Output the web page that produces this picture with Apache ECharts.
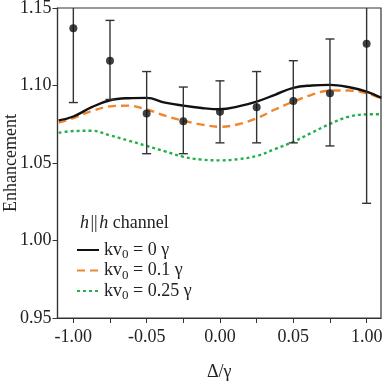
<!DOCTYPE html>
<html><head><meta charset="utf-8">
<script src="https://cdn.jsdelivr.net/npm/echarts@6/dist/echarts.min.js"></script>
<style>html,body{margin:0;padding:0;background:#fff}#c{width:383px;height:383px}</style>
</head><body><div id="c"></div>
<script>
// Experimental points
const pointX   = [-0.1, -0.075, -0.05, -0.025, 0, 0.025, 0.05, 0.075, 0.1];
const pointY   = [1.137, 1.116, 1.082, 1.077, 1.083, 1.086, 1.090, 1.095, 1.127];
const errLow   = [1.089, 1.091, 1.056, 1.056, 1.063, 1.063, 1.063, 1.061, 1.024];
const errHigh  = [1.185, 1.142, 1.109, 1.099, 1.103, 1.109, 1.116, 1.130, 1.230];
// Theory curves
const curveX   = [-0.11, -0.1, -0.0875, -0.075, -0.0625, -0.05, -0.0375, -0.025, -0.0125, 0, 0.0125, 0.025, 0.0375, 0.05, 0.0625, 0.075, 0.0875, 0.1, 0.11];
const curve0   = [1.0775, 1.080, 1.086, 1.0905, 1.0918, 1.092, 1.089, 1.087, 1.0855, 1.0847, 1.0865, 1.0896, 1.094, 1.0985, 1.100, 1.1004, 1.099, 1.096, 1.092];
const curve01  = [1.076, 1.079, 1.0835, 1.0865, 1.087, 1.0845, 1.0805, 1.0773, 1.0748, 1.0734, 1.075, 1.0788, 1.0845, 1.0896, 1.094, 1.0967, 1.0968, 1.095, 1.0915];
const curve025 = [1.0695, 1.0706, 1.0708, 1.0678, 1.0645, 1.061, 1.0575, 1.054, 1.0522, 1.0517, 1.0525, 1.0545, 1.059, 1.0637, 1.0695, 1.0752, 1.0798, 1.0814, 1.0815];
const seriesKv = ['0', '0.1', '0.25'];
// Axis ticks
const xTickValues  = [-0.1, -0.075, -0.05, -0.025, 0, 0.025, 0.05, 0.075, 0.1];
const xLabelValues = [-0.1, -0.05, 0, 0.05, 0.1];
const xTickLabels  = ['-1.00', '-0.05', '0.00', '0.05', '1.00'];

const FONT = 'Liberation Serif';
const zip = (xs, ys) => xs.map((x, i) => [x, ys[i]]);
const chart = echarts.init(document.getElementById('c'));
const lineNames = seriesKv.map(k => 'kv0 = ' + k + ' γ');
const colors = ['#111111', '#f0862c', '#22b04a'];
const dashes = ['solid', [8, 5], [3, 3]];

const lineSeries = [curve0, curve01, curve025].map((c, i) => ({
  name: lineNames[i], type: 'line', data: zip(curveX, c), smooth: 0.4,
  symbol: 'none', showSymbol: false,
  lineStyle: { color: colors[i], width: 2.4, type: dashes[i] },
  itemStyle: { color: colors[i] }, z: 3 - i + 2
}));

chart.setOption({
  animation: false,
  grid: { left: 57.5, right: 2, top: 8, bottom: 65, containLabel: false, outerBoundsMode: 'none',
          show: true, borderColor: '#333', borderWidth: 1.2, backgroundColor: 'transparent' },
  title: {
    text: '{i|h}{t|\u200a||\u200a}{i|h}{t| channel}', left: 75, top: 209,
    textStyle: { fontFamily: FONT, fontSize: 18, color: '#222', fontWeight: 'normal',
      rich: { i: { fontFamily: FONT, fontStyle: 'italic', fontSize: 18, color: '#222' },
              t: { fontFamily: FONT, fontSize: 18, color: '#222' } } }
  },
  legend: {
    orient: 'vertical', left: 71, top: 236, itemWidth: 22, itemHeight: 12, itemGap: 0,
    data: lineNames,
    itemStyle: { opacity: 0 },
    formatter: name => { const k = seriesKv[lineNames.indexOf(name)]; return '{t|kv}{s|0}{t| = ' + k + ' γ}'; },
    textStyle: { fontFamily: FONT, color: '#222',
      rich: { t: { fontFamily: FONT, fontSize: 18, color: '#222', lineHeight: 16 },
              s: { fontFamily: FONT, fontSize: 13, color: '#222', padding: [10, 0, 0, 0] } } }
  },
  xAxis: {
    type: 'value', min: -0.1108, max: 0.1098,
    name: 'Δ/γ', nameLocation: 'middle', nameGap: 45, nameMoveOverlap: false,
    nameTextStyle: { fontFamily: FONT, fontSize: 18, color: '#222' },
    axisLine: { onZero: false, lineStyle: { color: '#333', width: 1.2 } },
    axisTick: { show: true, length: 5, customValues: xTickValues, lineStyle: { color: '#333' } },
    axisLabel: { customValues: xLabelValues, margin: 10, fontFamily: FONT, fontSize: 18, color: '#222',
      formatter: v => { const i = xLabelValues.findIndex(x => Math.abs(x - v) < 1e-9); return i >= 0 ? xTickLabels[i] : ''; } },
    splitLine: { show: false }
  },
  yAxis: {
    type: 'value', min: 0.95, max: 1.15, interval: 0.05,
    name: 'Enhancement', nameLocation: 'middle', nameGap: 37, nameMoveOverlap: false,
    nameTextStyle: { fontFamily: FONT, fontSize: 18, color: '#222' },
    axisLine: { show: true, onZero: false, lineStyle: { color: '#333', width: 1.2 } },
    axisTick: { show: true, length: 5, lineStyle: { color: '#333' } },
    axisLabel: { margin: 6, fontFamily: FONT, fontSize: 18, color: '#222', formatter: v => v.toFixed(2) },
    splitLine: { show: false }
  },
  series: [
    ...lineSeries,
    {
      type: 'custom', name: 'err', z: 6,
      data: pointX.map((x, i) => [x, errLow[i], errHigh[i]]),
      renderItem: (params, api) => {
        const x = api.value(0);
        const lo = api.coord([x, api.value(1)]);
        const hi = api.coord([x, api.value(2)]);
        const top = params.coordSys.y;
        const clipped = hi[1] < top;
        const yHi = clipped ? top : hi[1];
        const w = 4.5;
        const st = { stroke: '#333', lineWidth: 1.4 };
        const ch = [
          { type: 'line', shape: { x1: lo[0], y1: lo[1], x2: lo[0], y2: yHi }, style: st },
          { type: 'line', shape: { x1: lo[0] - w, y1: lo[1], x2: lo[0] + w, y2: lo[1] }, style: st }
        ];
        if (!clipped) ch.push({ type: 'line', shape: { x1: hi[0] - w, y1: hi[1], x2: hi[0] + w, y2: hi[1] }, style: st });
        return { type: 'group', children: ch };
      }
    },
    {
      type: 'scatter', name: 'data', data: zip(pointX, pointY), symbol: 'circle', symbolSize: 8,
      itemStyle: { color: '#111' }, z: 7
    }
  ]
});
</script></body></html>
